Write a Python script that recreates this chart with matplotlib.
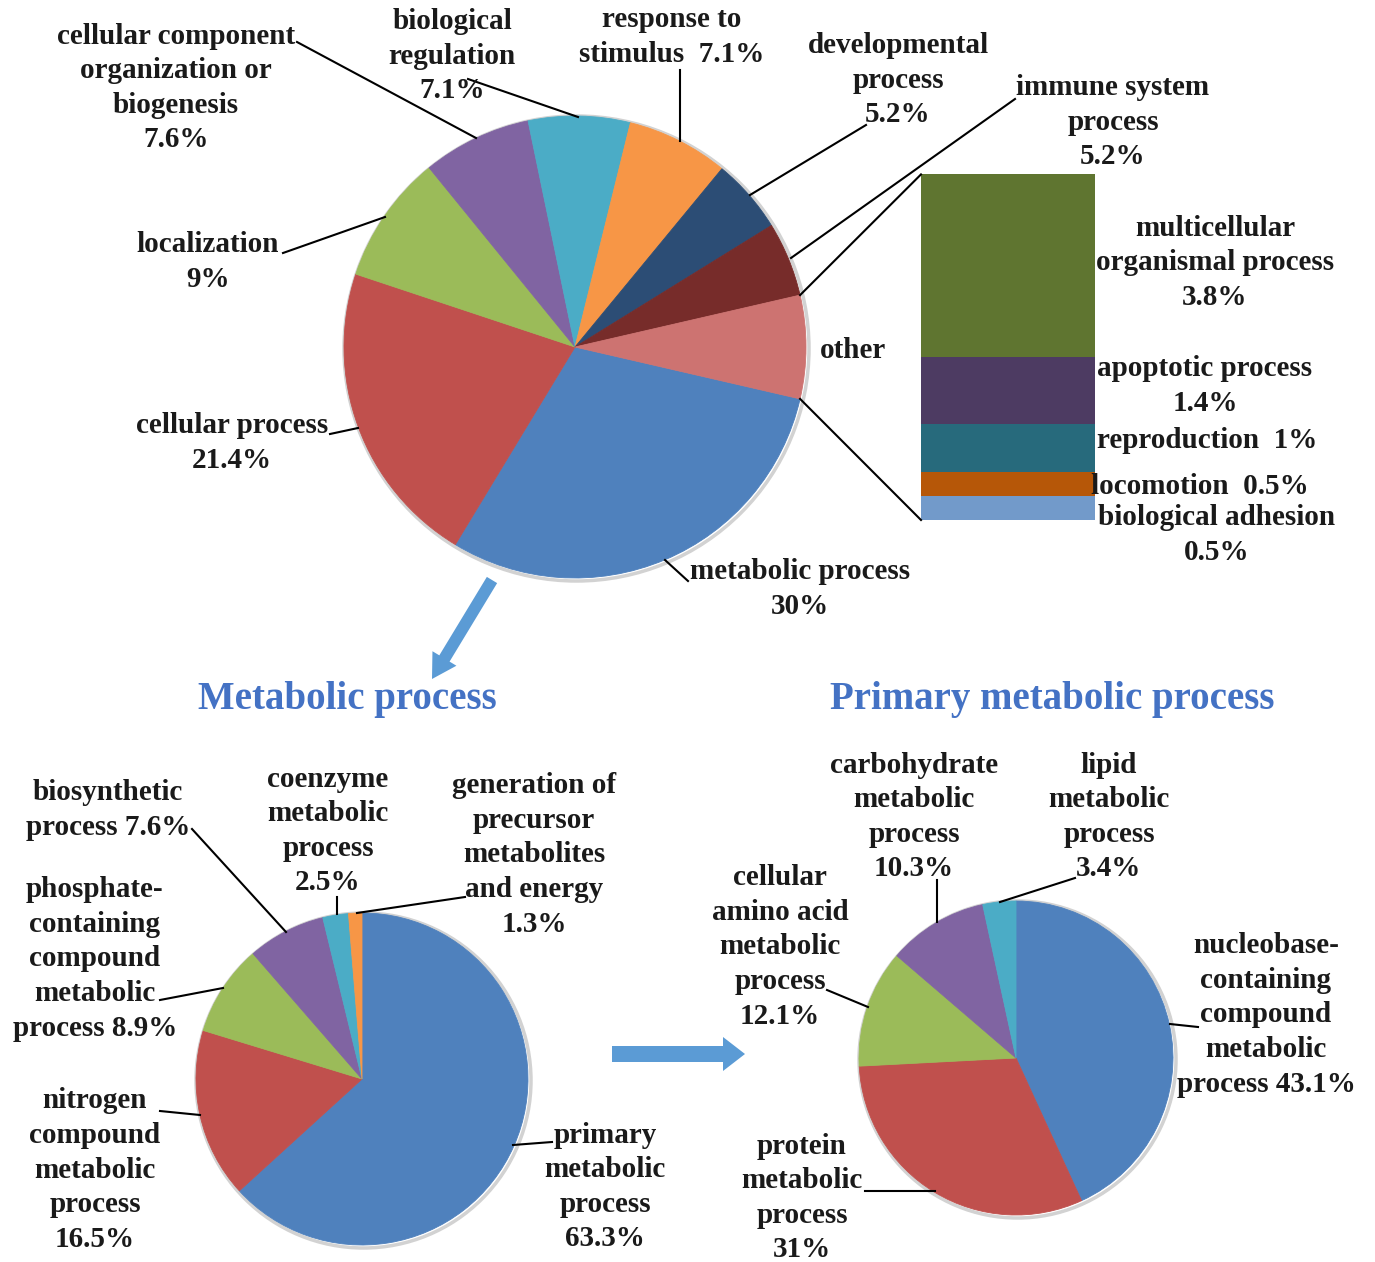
import numpy as np
import matplotlib.pyplot as plt
from matplotlib.patches import FancyArrow, Circle

W, H = 1375, 1262

# level-2 biological process terms, clockwise from "metabolic process"
top_values = [30, 21.4, 9, 7.6, 7.1, 7.1, 5.2, 5.2]
top_colors = ['#4F81BD', '#C0504D', '#9BBB59', '#8064A2', '#4BACC6',
              '#F79646', '#2C4D75', '#772C2A', '#CD7371']

# terms grouped as "other", bottom to top of the bar:
# biological adhesion, locomotion, reproduction, apoptotic, multicellular
other_values = [0.5, 0.5, 1, 1.4, 3.8]
other_colors = ['#729ACA', '#B65708', '#276A7C', '#4D3B62', '#5F7530']

# metabolic process breakdown
metab_values = [63.3, 16.5, 8.9, 7.6, 2.5, 1.3]
metab_colors = ['#4F81BD', '#C0504D', '#9BBB59', '#8064A2', '#4BACC6', '#F79646']

# primary metabolic process breakdown
primary_values = [43.1, 31, 12.1, 10.3, 3.4]
primary_colors = ['#4F81BD', '#C0504D', '#9BBB59', '#8064A2', '#4BACC6']

pie_values = top_values + [sum(other_values)]

FONT = dict(family='Liberation Serif', fontweight='bold', fontsize=21,
            ha='center', va='center', linespacing=1.36, color='#1a1a1a')

fig = plt.figure(figsize=(W / 100, H / 100), dpi=100)
ax = fig.add_axes([0, 0, 1, 1])


def draw_pie(values, colors, center, radius, start):
    cx, cy = center[0], H - center[1]
    ax.add_patch(Circle((cx + 1.5, cy - 1.5), radius + 1.5, fc='none',
                        ec='#d2d2d2', lw=2.5, zorder=0))
    wedges, _ = ax.pie(values, colors=colors, startangle=start,
                       counterclock=False, center=(cx, cy), radius=radius,
                       wedgeprops=dict(linewidth=0.6))
    for wd in wedges:
        wd.set_edgecolor(wd.get_facecolor())
    return wedges, (cx, cy)


def leaders(segs):
    for (x0, y0), (x1, y1) in segs:
        ax.plot([x0, x1], [H - y0, H - y1], color='black', lw=1.5)


def labels(items):
    for s, (x, y) in items:
        ax.text(x, H - y, s, **FONT)


# top pie, "other" slice centred on the right
top_r = 231
start = -180 * pie_values[-1] / sum(pie_values)
wedges, (tcx, tcy) = draw_pie(pie_values, top_colors, (575, 347), top_r, start)

# stacked bar for "other"
scale = 48.0
bar_x, bar_w, bar_base = 1008, 174, H - 520
ov = np.array(other_values)
bottoms = bar_base + scale * np.concatenate([[0], np.cumsum(ov)[:-1]])
ax.bar(bar_x, scale * ov, bottom=bottoms, width=bar_w, color=other_colors,
       linewidth=0)
bar_top = bar_base + scale * ov.sum()

# connectors from the "other" slice to the bar
w = wedges[-1]
for ang, yb in [(w.theta2, bar_top), (w.theta1, bar_base)]:
    px = tcx + top_r * np.cos(np.radians(ang))
    py = tcy + top_r * np.sin(np.radians(ang))
    ax.plot([px, bar_x - bar_w / 2], [py, yb], color='black', lw=1.5)

fmt = lambda v: f'{v:g}'
labels([
    ('metabolic process\n' + fmt(top_values[0]) + '%', (800, 589)),
    ('cellular process\n' + fmt(top_values[1]) + '%', (232, 443)),
    ('localization\n' + fmt(top_values[2]) + '%', (208, 262)),
    ('cellular component\norganization or\nbiogenesis\n' + fmt(top_values[3]) + '%', (176, 88)),
    ('biological\nregulation\n' + fmt(top_values[4]) + '%', (452, 56)),
    ('response to\nstimulus  ' + fmt(top_values[5]) + '%', (672, 37)),
    ('developmental\nprocess\n' + fmt(top_values[6]) + '%', (898, 80)),
    ('immune system\nprocess\n' + fmt(top_values[7]) + '%', (1113, 122)),
    ('other', (853, 350)),
    ('multicellular\norganismal process\n' + fmt(other_values[4]) + '%', (1215, 263)),
    ('apoptotic process\n' + fmt(other_values[3]) + '%', (1205, 386)),
    ('reproduction  ' + fmt(other_values[2]) + '%', (1207, 441)),
    ('locomotion  ' + fmt(other_values[1]) + '%', (1200, 486)),
    ('biological adhesion\n' + fmt(other_values[0]) + '%', (1217, 535)),
])
leaders([
    ((665, 560), (688, 581)),
    ((330, 434), (358, 428)),
    ((283, 253), (385, 217)),
    ((297, 42), (476, 138)),
    ((468, 79), (578, 117)),
    ((680, 70), (680, 141)),
    ((866, 125), (750, 195)),
    ((1015, 99), (791, 258)),
])

# arrows and section titles
ax.add_patch(FancyArrow(492, H - 580, -60, -99, width=12, head_width=28,
                        head_length=24, length_includes_head=True,
                        color='#5B9BD5', lw=0))
ax.add_patch(FancyArrow(612, H - 1054, 133, 0, width=16, head_width=34,
                        head_length=22, length_includes_head=True,
                        color='#5B9BD5', lw=0))
title_kw = dict(family='Liberation Serif', fontweight='bold', fontsize=28,
                ha='center', va='center', color='#4472C4')
ax.text(347, H - 700, 'Metabolic process', **title_kw)
ax.text(1052, H - 700, 'Primary metabolic process', **title_kw)

# metabolic process pie
draw_pie(metab_values, metab_colors, (362, 1079), 166, 90)
labels([
    ('primary\nmetabolic\nprocess\n' + fmt(metab_values[0]) + '%', (605, 1187)),
    ('nitrogen\ncompound\nmetabolic\nprocess\n' + fmt(metab_values[1]) + '%', (95, 1170)),
    ('phosphate-\ncontaining\ncompound\nmetabolic\nprocess ' + fmt(metab_values[2]) + '%', (95, 959)),
    ('biosynthetic\nprocess ' + fmt(metab_values[3]) + '%', (108, 810)),
    ('coenzyme\nmetabolic\nprocess\n' + fmt(metab_values[4]) + '%', (328, 831)),
    ('generation of\nprecursor\nmetabolites\nand energy\n' + fmt(metab_values[5]) + '%', (534, 855)),
])
leaders([
    ((513, 1145), (552, 1142)),
    ((160, 1111), (200, 1115)),
    ((160, 1000), (223, 988)),
    ((192, 829), (286, 932)),
    ((337, 897), (337, 914)),
    ((465, 897), (357, 913)),
])

# primary metabolic process pie
draw_pie(primary_values, primary_colors, (1016, 1058), 157, 90)
labels([
    ('nucleobase-\ncontaining\ncompound\nmetabolic\nprocess ' + fmt(primary_values[0]) + '%', (1266, 1015)),
    ('protein\nmetabolic\nprocess\n' + fmt(primary_values[1]) + '%', (802, 1198)),
    ('cellular\namino acid\nmetabolic\nprocess\n' + fmt(primary_values[2]) + '%', (780, 947)),
    ('carbohydrate\nmetabolic\nprocess\n' + fmt(primary_values[3]) + '%', (914, 817)),
    ('lipid\nmetabolic\nprocess\n' + fmt(primary_values[4]) + '%', (1109, 817)),
])
leaders([
    ((1170, 1024), (1198, 1027)),
    ((935, 1191), (865, 1191)),
    ((827, 990), (868, 1007)),
    ((937, 880), (937, 922)),
    ((1075, 878), (1000, 902)),
])

ax.set_xlim(0, W)
ax.set_ylim(0, H)
ax.set_aspect('equal')
ax.axis('off')
fig.savefig('out.png', dpi=100, facecolor='white')
